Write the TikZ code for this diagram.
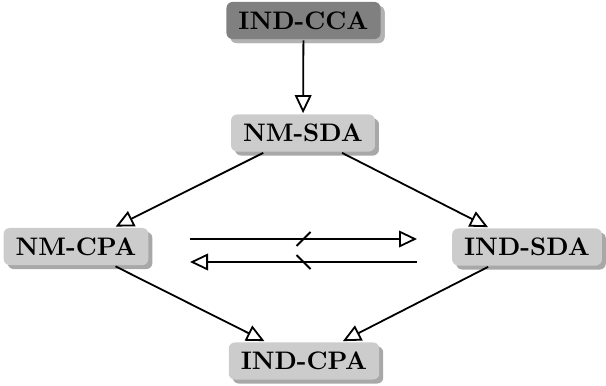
\documentclass[tikz,border=0pt]{standalone}
\usepackage{tikz}
\usepackage{graphicx}
\usetikzlibrary{arrows.meta,shadows}

\newcommand{\seclabel}[1]{\scalebox{1.9}{\bfseries #1}}

\begin{document}
\begin{tikzpicture}[
    x=0.75pt, y=-0.75pt,
    block/.style={rounded corners=4.5pt, fill=black!20, align=center,
      font=\fontsize{10}{12}\selectfont, text height=13pt, text depth=0pt,
      inner xsep=9pt, inner ysep=7.4pt, outer sep=1pt,
      drop shadow={shadow xshift=3pt, shadow yshift=-3pt, fill=black!34, opacity=1}},
    topblock/.style={block, fill=black!50,
      drop shadow={shadow xshift=3pt, shadow yshift=-3pt, fill=black!30, opacity=1}},
    arrow/.style={-{Triangle[open, length=13.5pt, width=12.5pt]}, line width=1.35pt},
    slash/.style={line width=1.35pt}
]
\useasboundingbox (0,0) rectangle (606,385);

\node[topblock] (cca) at (303.5,20.5) {\seclabel{IND-CCA}};
\node[block] (nmsda) at (303,133) {\seclabel{NM-SDA}};
\node[block] (nmcpa) at (76,246.5) {\seclabel{NM-CPA}};
\node[block] (indsda) at (527,247) {\seclabel{IND-SDA}};
\node[block] (indcpa) at (304,361) {\seclabel{IND-CPA}};

\draw[arrow] (cca) -- (nmsda);
\draw[arrow] (nmsda) -- (nmcpa);
\draw[arrow] (nmsda) -- (indsda);
\draw[arrow] (nmcpa) -- (indcpa);
\draw[arrow] (indsda) -- (indcpa);

% separations: no implication either way
\coordinate (topl) at (190,239);
\coordinate (topr) at (417,239);
\coordinate (botr) at (417,262);
\coordinate (botl) at (190,262);
\draw[arrow] (topl) -- coordinate (topmid) (topr);
\draw[arrow] (botr) -- coordinate (botmid) (botl);
\draw[slash] ([shift={(-7,7)}]topmid) -- ([shift={(7,-7)}]topmid);
\draw[slash] ([shift={(-7,-7)}]botmid) -- ([shift={(7,7)}]botmid);
\end{tikzpicture}
\end{document}
